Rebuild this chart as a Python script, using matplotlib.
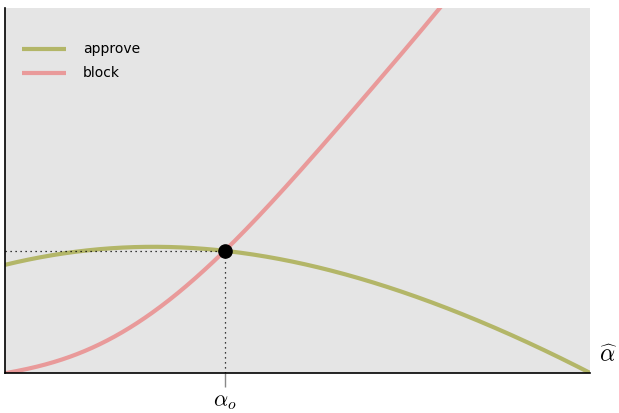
import numpy as np
import matplotlib
matplotlib.use("Agg")
import matplotlib.pyplot as plt

plt.rcParams['mathtext.fontset'] = 'cm'

x_vals = [0.0, 0.05, 0.1, 0.15, 0.2, 0.25, 0.3, 0.35, 0.4, 0.45, 0.5,
          0.55, 0.6, 0.65, 0.7, 0.75, 0.8, 0.85, 0.9, 0.95, 1.0]
approve = [0.296, 0.315, 0.327, 0.336, 0.344, 0.347, 0.345, 0.338, 0.329, 0.318, 0.303,
           0.282, 0.263, 0.238, 0.211, 0.181, 0.148, 0.115, 0.079, 0.041, 0.0]
block_x = [0.0, 0.05, 0.1, 0.15, 0.2, 0.25, 0.3, 0.35, 0.4, 0.45, 0.5,
           0.55, 0.6, 0.65, 0.7, 0.75, 0.8]
block = [0.0, 0.014, 0.038, 0.072, 0.113, 0.162, 0.222, 0.296, 0.376, 0.458, 0.546,
         0.637, 0.728, 0.822, 0.917, 1.014, 1.113]
series_labels = ["approve", "block"]
tick_label = r"$\alpha_o$"
xlabel = r"$\widehat{\alpha}$"


def smooth(x, y, xn, deg=5):
    # light smoothing of hand-read values
    p = np.polyfit(x, y, deg)
    return np.polyval(p, xn)


xs = np.linspace(0, 1, 500)
ap_s = smooth(x_vals, approve, xs)
xb = np.linspace(0, 0.8, 500)
bl_s = smooth(block_x, block, xb)

# intersection
xi = np.linspace(0, 0.8, 4000)
diff = np.interp(xi, xs, ap_s) - np.interp(xi, xb, bl_s)
idx = np.where(np.diff(np.sign(diff)) != 0)[0][0]
x_o = xi[idx]
y_o = np.interp(x_o, xs, ap_s)

fig = plt.figure(figsize=(6.19, 4.13), dpi=100)
ax = fig.add_axes([5/619, 40/413, 585/619, 365/413])
ax.set_facecolor('#e5e5e5')

c_app = '#b3b668'
c_blk = '#e99a9a'
ax.plot(xs, ap_s, color=c_app, lw=3, label=series_labels[0], solid_capstyle='butt')
ax.plot(xb, bl_s, color=c_blk, lw=3, label=series_labels[1], solid_capstyle='butt')

ax.plot([0, x_o], [y_o, y_o], color='black', lw=0.9, ls=(0, (1, 3)))
ax.plot([x_o, x_o], [0, y_o], color='black', lw=0.9, ls=(0, (1, 3)))
ax.plot([x_o], [y_o], 'o', color='black', ms=9.5, zorder=5)

ax.set_xlim(0, 1)
ax.set_ylim(0, 1)
for s in ['top', 'right']:
    ax.spines[s].set_visible(False)
for s in ['left', 'bottom']:
    ax.spines[s].set_color('black')
    ax.spines[s].set_linewidth(1.2)

ax.set_yticks([])
ax.set_xticks([x_o])
ax.set_xticklabels([tick_label], fontsize=16)
ax.tick_params(axis='x', length=10, color='#888888', width=1, pad=4)

ax.text(1.015, 0.05, xlabel, transform=ax.transAxes, fontsize=17,
        ha='left', va='center')

leg = ax.legend(loc='upper left', frameon=False, fontsize=10,
                handlelength=3.2, handletextpad=1.2, labelspacing=0.72,
                bbox_to_anchor=(0.007, 0.94))

fig.savefig('out.png', dpi=100)
